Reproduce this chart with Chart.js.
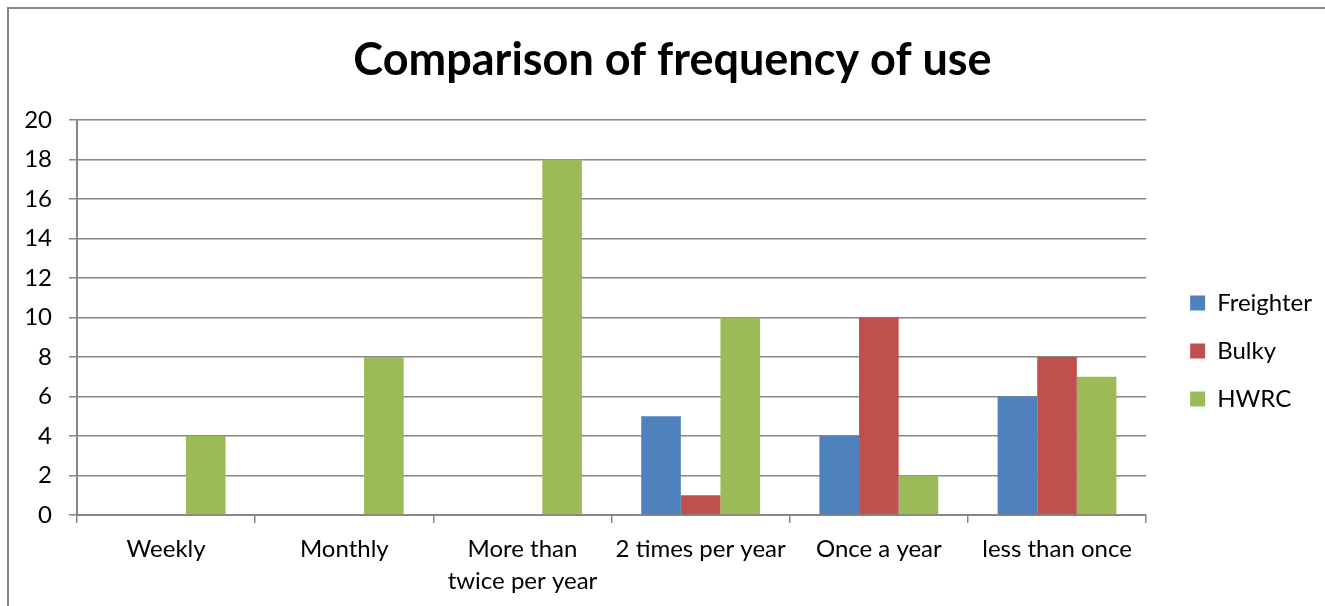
<!DOCTYPE html>
<html>
<head>
<meta charset="utf-8">
<title>Comparison of frequency of use</title>
<script src="https://cdn.jsdelivr.net/npm/chart.js@4"></script>
<style>
    html, body { margin: 0; padding: 0; background: #fff; overflow: hidden; }
    #frame {
        position: absolute;
        left: 7px;
        top: 7px;
        width: 1330px;
        height: 700px;
        border-left: 2px solid #868686;
        border-top: 2px solid #868686;
    }
    #box { position: absolute; left: 0; top: 0; width: 1313px; height: 684px; }
</style>
</head>
<body>
<div id="frame">
    <div id="box"><canvas id="chart1"></canvas></div>
</div>
<script>
const categories = ['Weekly', 'Monthly', ['More than', 'twice per year'], '2 times per year', 'Once a year', 'less than once'];
const freighter = [0, 0, 0, 5, 4, 6];
const bulky = [0, 0, 0, 1, 10, 8];
const hwrc = [4, 8, 18, 10, 2, 7];
const yTicks = [0, 2, 4, 6, 8, 10, 12, 14, 16, 18, 20];

const axisGrey = '#868686';
const font = 'Lato, Carlito, Calibri, sans-serif';

document.addEventListener('DOMContentLoaded', function() {
    const ctx1 = document.getElementById('chart1').getContext('2d');

    new Chart(ctx1, {
        type: 'bar',
        data: {
            labels: categories,
            datasets: [
                { label: 'Freighter', data: freighter, backgroundColor: '#4F81BD' },
                { label: 'Bulky', data: bulky, backgroundColor: '#C0504D' },
                { label: 'HWRC', data: hwrc, backgroundColor: '#9BBB59' }
            ]
        },
        options: {
            responsive: true,
            maintainAspectRatio: false,
            animation: false,
            categoryPercentage: 0.667,
            barPercentage: 1,
            layout: { padding: { left: 14, right: 0, top: 0, bottom: 0 } },
            plugins: {
                title: {
                    display: true,
                    text: 'Comparison of frequency of use',
                    color: '#000',
                    font: { family: font, size: 45, weight: 'bold', lineHeight: 1.2 },
                    padding: { top: 24, bottom: 33 }
                },
                legend: {
                    position: 'right',
                    labels: {
                        boxWidth: 15,
                        boxHeight: 15,
                        padding: 24,
                        color: '#000',
                        font: { family: font, size: 24 }
                    }
                },
                tooltip: { enabled: false }
            },
            scales: {
                x: {
                    grid: { drawOnChartArea: false, tickLength: 8, color: axisGrey, lineWidth: 1.5 },
                    border: { color: axisGrey, width: 2 },
                    ticks: {
                        color: '#000',
                        padding: 10,
                        maxRotation: 0,
                        autoSkip: false,
                        font: { family: font, size: 24, lineHeight: '32px' }
                    },
                    afterFit: s => { s.height = 178; }
                },
                y: {
                    min: 0,
                    max: 20,
                    afterBuildTicks: s => { s.ticks = yTicks.map(v => ({ value: v })); },
                    grid: { tickLength: 8, color: axisGrey, lineWidth: 1.5 },
                    border: { color: axisGrey, width: 2 },
                    ticks: {
                        color: '#000',
                        padding: 17,
                        font: { family: font, size: 24 }
                    },
                    afterFit: s => { s.width = 54; }
                },
                // empty spacer between plot and legend
                gap: {
                    position: 'right',
                    grid: { display: false },
                    border: { display: false },
                    ticks: { display: false },
                    afterFit: s => { s.width = 20; }
                }
            }
        }
    });
});
</script>
</body>
</html>
